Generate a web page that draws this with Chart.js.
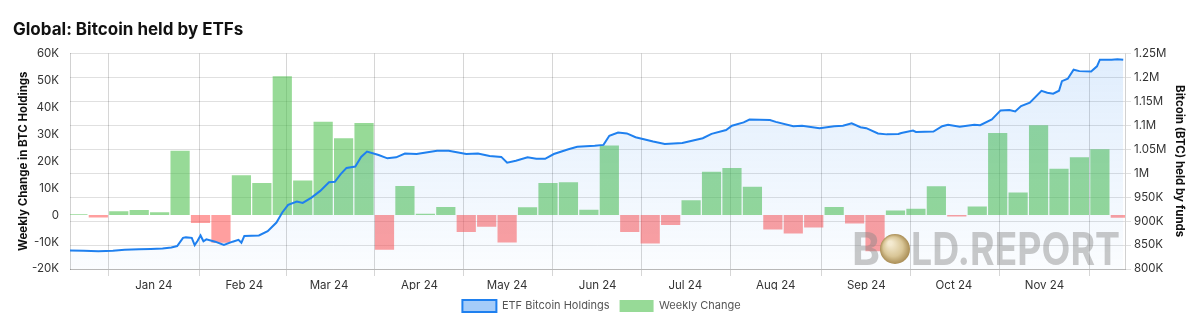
<!DOCTYPE html>
<html>
<head>
<meta charset="utf-8">
<title>Global: Bitcoin held by ETFs</title>
<script src="https://cdn.jsdelivr.net/npm/chart.js@4.4.1/dist/chart.umd.min.js"></script>
<style>
  html, body { margin: 0; padding: 0; background: #fff; }
  #wrap { width: 1200px; height: 334px; position: relative; }
</style>
</head>
<body>
<div id="wrap"><canvas id="etfChart"></canvas></div>
<script>
// Weekly change in BTC held by ETFs (week of, BTC)
const weekDates = [
  '2023-12-06', '2023-12-13', '2023-12-20', '2023-12-27', '2024-01-03', '2024-01-10', '2024-01-17',
  '2024-01-24', '2024-01-31', '2024-02-07', '2024-02-14', '2024-02-21', '2024-02-28', '2024-03-06',
  '2024-03-13', '2024-03-20', '2024-03-27', '2024-04-03', '2024-04-10', '2024-04-17', '2024-04-24',
  '2024-05-01', '2024-05-08', '2024-05-15', '2024-05-22', '2024-05-29', '2024-06-05', '2024-06-12',
  '2024-06-19', '2024-06-26', '2024-07-03', '2024-07-10', '2024-07-17', '2024-07-24', '2024-07-31',
  '2024-08-07', '2024-08-14', '2024-08-21', '2024-08-28', '2024-09-04', '2024-09-11', '2024-09-18',
  '2024-09-25', '2024-10-02', '2024-10-09', '2024-10-16', '2024-10-23', '2024-10-30', '2024-11-06',
  '2024-11-13', '2024-11-20', '2024-11-27'
];
const weeklyChange = [
  300, -900, 1400, 1900, 1100, 23900, -2900,
  -10300, 14800, 11900, 51500, 12800, 34600, 28500,
  34200, -12900, 10800, 500, 3000, -6300, -4300,
  -10200, 2900, 11900, 12200, 2000, 25800, -6300,
  -10500, -3700, 5500, 16100, 17500, 10500, -5300,
  -6800, -4600, 3000, -3100, -13400, 1700, 2400,
  10700, -500, 3200, 30500, 8400, 33300, 17200,
  21500, 24400, -1000
];

// Total BTC held by ETFs
const holdingDates = [
  '2023-12-02', '2023-12-08', '2023-12-13', '2023-12-18', '2023-12-22', '2023-12-27', '2023-12-31',
  '2024-01-04', '2024-01-07', '2024-01-09', '2024-01-11', '2024-01-12', '2024-01-14', '2024-01-15',
  '2024-01-16', '2024-01-17', '2024-01-18', '2024-01-19', '2024-01-22', '2024-01-25', '2024-01-28',
  '2024-01-30', '2024-01-31', '2024-02-01', '2024-02-06', '2024-02-09', '2024-02-12', '2024-02-14',
  '2024-02-16', '2024-02-19', '2024-02-21', '2024-02-24', '2024-02-27', '2024-03-01', '2024-03-03',
  '2024-03-05', '2024-03-07', '2024-03-10', '2024-03-12', '2024-03-14', '2024-03-18', '2024-03-21',
  '2024-03-24', '2024-03-27', '2024-03-31', '2024-04-07', '2024-04-11', '2024-04-17', '2024-04-21',
  '2024-04-25', '2024-04-29', '2024-05-01', '2024-05-04', '2024-05-08', '2024-05-11', '2024-05-14',
  '2024-05-17', '2024-05-22', '2024-05-25', '2024-05-31', '2024-06-03', '2024-06-05', '2024-06-08',
  '2024-06-11', '2024-06-14', '2024-06-20', '2024-06-24', '2024-06-30', '2024-07-07', '2024-07-10',
  '2024-07-15', '2024-07-17', '2024-07-21', '2024-07-23', '2024-07-30', '2024-08-01', '2024-08-07',
  '2024-08-10', '2024-08-16', '2024-08-21', '2024-08-24', '2024-08-27', '2024-08-30', '2024-09-01',
  '2024-09-05', '2024-09-08', '2024-09-12', '2024-09-13', '2024-09-17', '2024-09-18', '2024-09-24',
  '2024-09-27', '2024-09-29', '2024-10-03', '2024-10-08', '2024-10-10', '2024-10-14', '2024-10-17',
  '2024-10-20', '2024-10-22', '2024-10-24', '2024-10-27', '2024-10-31', '2024-11-02', '2024-11-04',
  '2024-11-06', '2024-11-07', '2024-11-09', '2024-11-11', '2024-11-13', '2024-11-17', '2024-11-19',
  '2024-11-20', '2024-11-24', '2024-11-26', '2024-11-28'
];
const holdings = [
  839000, 838000, 837000, 838000, 840000, 841000, 842000,
  843000, 845000, 848000, 865000, 866000, 865000, 850000,
  859000, 870000, 858000, 862000, 857000, 850000, 857000,
  861000, 855000, 869000, 870000, 879000, 897000, 918000,
  934000, 941000, 938000, 949000, 963000, 981000, 982000,
  998000, 1011000, 1014000, 1034000, 1045000, 1038000, 1031000,
  1033000, 1041000, 1040000, 1047000, 1047000, 1040000, 1041000,
  1036000, 1034000, 1022000, 1026000, 1033000, 1030000, 1030000,
  1040000, 1050000, 1055000, 1057000, 1059000, 1078000, 1085000,
  1083000, 1075000, 1066000, 1061000, 1063000, 1073000, 1082000,
  1090000, 1099000, 1106000, 1112000, 1111000, 1107000, 1098000,
  1099000, 1094000, 1098000, 1099000, 1104000, 1096000, 1094000,
  1083000, 1081000, 1082000, 1084000, 1089000, 1086000, 1087000,
  1098000, 1101000, 1097000, 1101000, 1100000, 1112000, 1131000,
  1132000, 1129000, 1140000, 1147000, 1172000, 1168000, 1166000,
  1172000, 1192000, 1197000, 1216000, 1213000, 1212000, 1223000,
  1237000, 1237000, 1238000, 1237000
];

// x axis month ticks
const monthDates = [
  '2024-01-01', '2024-02-01', '2024-03-01', '2024-04-01', '2024-05-01', '2024-06-01',
  '2024-07-01', '2024-08-01', '2024-09-01', '2024-10-01', '2024-11-01'
];
const monthLabels = ['Jan 24', 'Feb 24', 'Mar 24', 'Apr 24', 'May 24', 'Jun 24',
  'Jul 24', 'Aug 24', 'Sep 24', 'Oct 24', 'Nov 24'];

// day number counted from 1 Jan 2024, so a plain linear axis can be used
const EPOCH = Date.UTC(2024, 0, 1);
const toDay = s => (Date.parse(s + 'T00:00:00Z') - EPOCH) / 86400000;
const monthTicks = monthDates.map(toDay);

const GREEN = 'rgba(75, 192, 75, 0.58)';
const RED = 'rgba(255, 80, 80, 0.55)';
const BLUE = '#1f80ef';
const FONT = 'Inter, "Helvetica Neue", Arial, sans-serif';

Chart.defaults.font.family = FONT;
Chart.defaults.color = '#333';

const ctx = document.getElementById('etfChart').getContext('2d');

// BOLD.REPORT watermark with the coin in place of the O
const watermark = {
  id: 'watermark',
  afterDatasetsDraw(chart) {
    const c = chart.ctx;
    const grey = 'rgba(135, 135, 135, 0.45)';
    c.save();
    c.font = 'bold 45px ' + FONT;
    c.textBaseline = 'alphabetic';
    c.fillStyle = grey;
    const base = 265;
    const bw = c.measureText('B').width;
    c.save();
    c.translate(852, base);
    c.scale(28 / bw, 1);
    c.fillText('B', 0, 0);
    c.restore();
    const cx = 895, cy = 249, r = 15;
    const g = c.createRadialGradient(cx - 5, cy - 6, 2, cx, cy, r);
    g.addColorStop(0, '#f4ead0');
    g.addColorStop(0.6, '#d9c697');
    g.addColorStop(1, '#a98d55');
    c.fillStyle = g;
    c.beginPath();
    c.arc(cx, cy, r, 0, Math.PI * 2);
    c.fill();
    c.fillStyle = grey;
    const txt = 'LD.REPORT';
    const w = c.measureText(txt).width;
    c.save();
    c.translate(911, base);
    c.scale(209 / w, 1);
    c.fillText(txt, 0, 0);
    c.restore();
    c.restore();
  }
};

new Chart(ctx, {
  type: 'bar',
  data: {
    datasets: [
      {
        type: 'line',
        label: 'ETF Bitcoin Holdings',
        data: holdingDates.map((d, i) => ({ x: toDay(d), y: holdings[i] })),
        yAxisID: 'y1',
        borderColor: BLUE,
        borderWidth: 2,
        pointRadius: 0,
        tension: 0,
        fill: 'start',
        order: 0,
        backgroundColor: (context) => {
          const area = context.chart.chartArea;
          if (!area) return 'rgba(31, 128, 239, 0.1)';
          const grad = context.chart.ctx.createLinearGradient(0, area.top, 0, area.bottom);
          grad.addColorStop(0, 'rgba(31, 128, 239, 0.14)');
          grad.addColorStop(1, 'rgba(31, 128, 239, 0.02)');
          return grad;
        }
      },
      {
        type: 'bar',
        label: 'Weekly Change',
        data: weekDates.map((d, i) => ({ x: toDay(d), y: weeklyChange[i] })),
        yAxisID: 'y',
        backgroundColor: weeklyChange.map(v => v >= 0 ? GREEN : RED),
        borderWidth: 0,
        categoryPercentage: 1,
        barPercentage: 0.94,
        clip: 0,
        order: 1
      }
    ]
  },
  options: {
    responsive: true,
    maintainAspectRatio: false,
    animation: false,
    layout: { padding: { left: 13, right: 10, top: 0, bottom: 12 } },
    plugins: {
      title: {
        display: true,
        text: 'Global: Bitcoin held by ETFs',
        align: 'start',
        color: '#111',
        font: { size: 17, weight: 'bold' },
        padding: { top: 20, bottom: 13 }
      },
      legend: {
        position: 'bottom',
        labels: {
          boxWidth: 34,
          boxHeight: 12,
          padding: 10,
          color: '#555',
          font: { size: 11 },
          generateLabels(chart) {
            const items = Chart.defaults.plugins.legend.labels.generateLabels(chart);
            items.forEach(it => {
              if (it.datasetIndex === 0) {
                it.fillStyle = 'rgba(31, 128, 239, 0.4)';
                it.strokeStyle = BLUE;
                it.lineWidth = 2;
              } else {
                it.fillStyle = GREEN;
                it.strokeStyle = 'rgba(0,0,0,0)';
                it.lineWidth = 0;
              }
            });
            return items;
          }
        }
      },
      tooltip: { enabled: false }
    },
    scales: {
      x: {
        type: 'linear',
        min: -28.7,
        max: 332.6,
        offset: false,
        grid: { color: 'rgba(0,0,0,0.16)', tickLength: 7 },
        border: { color: 'rgba(0,0,0,0.18)' },
        ticks: {
          autoSkip: false,
          maxRotation: 0,
          padding: 3,
          color: '#333',
          font: { size: 11.5 },
          callback: (v) => {
            const i = monthTicks.indexOf(v);
            return i >= 0 ? monthLabels[i] : '';
          }
        },
        afterBuildTicks: (scale) => {
          scale.ticks = monthTicks.map(v => ({ value: v }));
        },
        afterFit: (scale) => { scale.height = 21; }
      },
      y: {
        position: 'left',
        min: -20000,
        max: 60000,
        grid: { display: false },
        border: { color: 'rgba(0,0,0,0.18)' },
        ticks: {
          stepSize: 10000,
          color: '#333',
          font: { size: 11.5 },
          callback: v => v === 0 ? '0' : (v / 1000) + 'K'
        },
        title: {
          display: true,
          text: 'Weekly Change in BTC Holdings',
          color: '#111',
          font: { size: 11.5, weight: 'bold' },
          padding: { top: 4, bottom: 4 }
        },
        afterFit: (scale) => { scale.width = 57; }
      },
      y1: {
        position: 'right',
        min: 800000,
        max: 1250000,
        grid: { color: 'rgba(0,0,0,0.12)', tickLength: 6 },
        border: { color: 'rgba(0,0,0,0.18)' },
        ticks: {
          stepSize: 50000,
          color: '#333',
          font: { size: 11.5 },
          callback: v => v >= 1000000 ? (v / 1000000) + 'M' : (v / 1000) + 'K'
        },
        title: {
          display: true,
          text: 'Bitcoin (BTC) held by funds',
          color: '#111',
          font: { size: 11.5, weight: 'bold' },
          padding: { top: 4, bottom: 0 }
        },
        afterFit: (scale) => { scale.width = 65; }
      }
    }
  },
  plugins: [watermark]
});
</script>
</body>
</html>
